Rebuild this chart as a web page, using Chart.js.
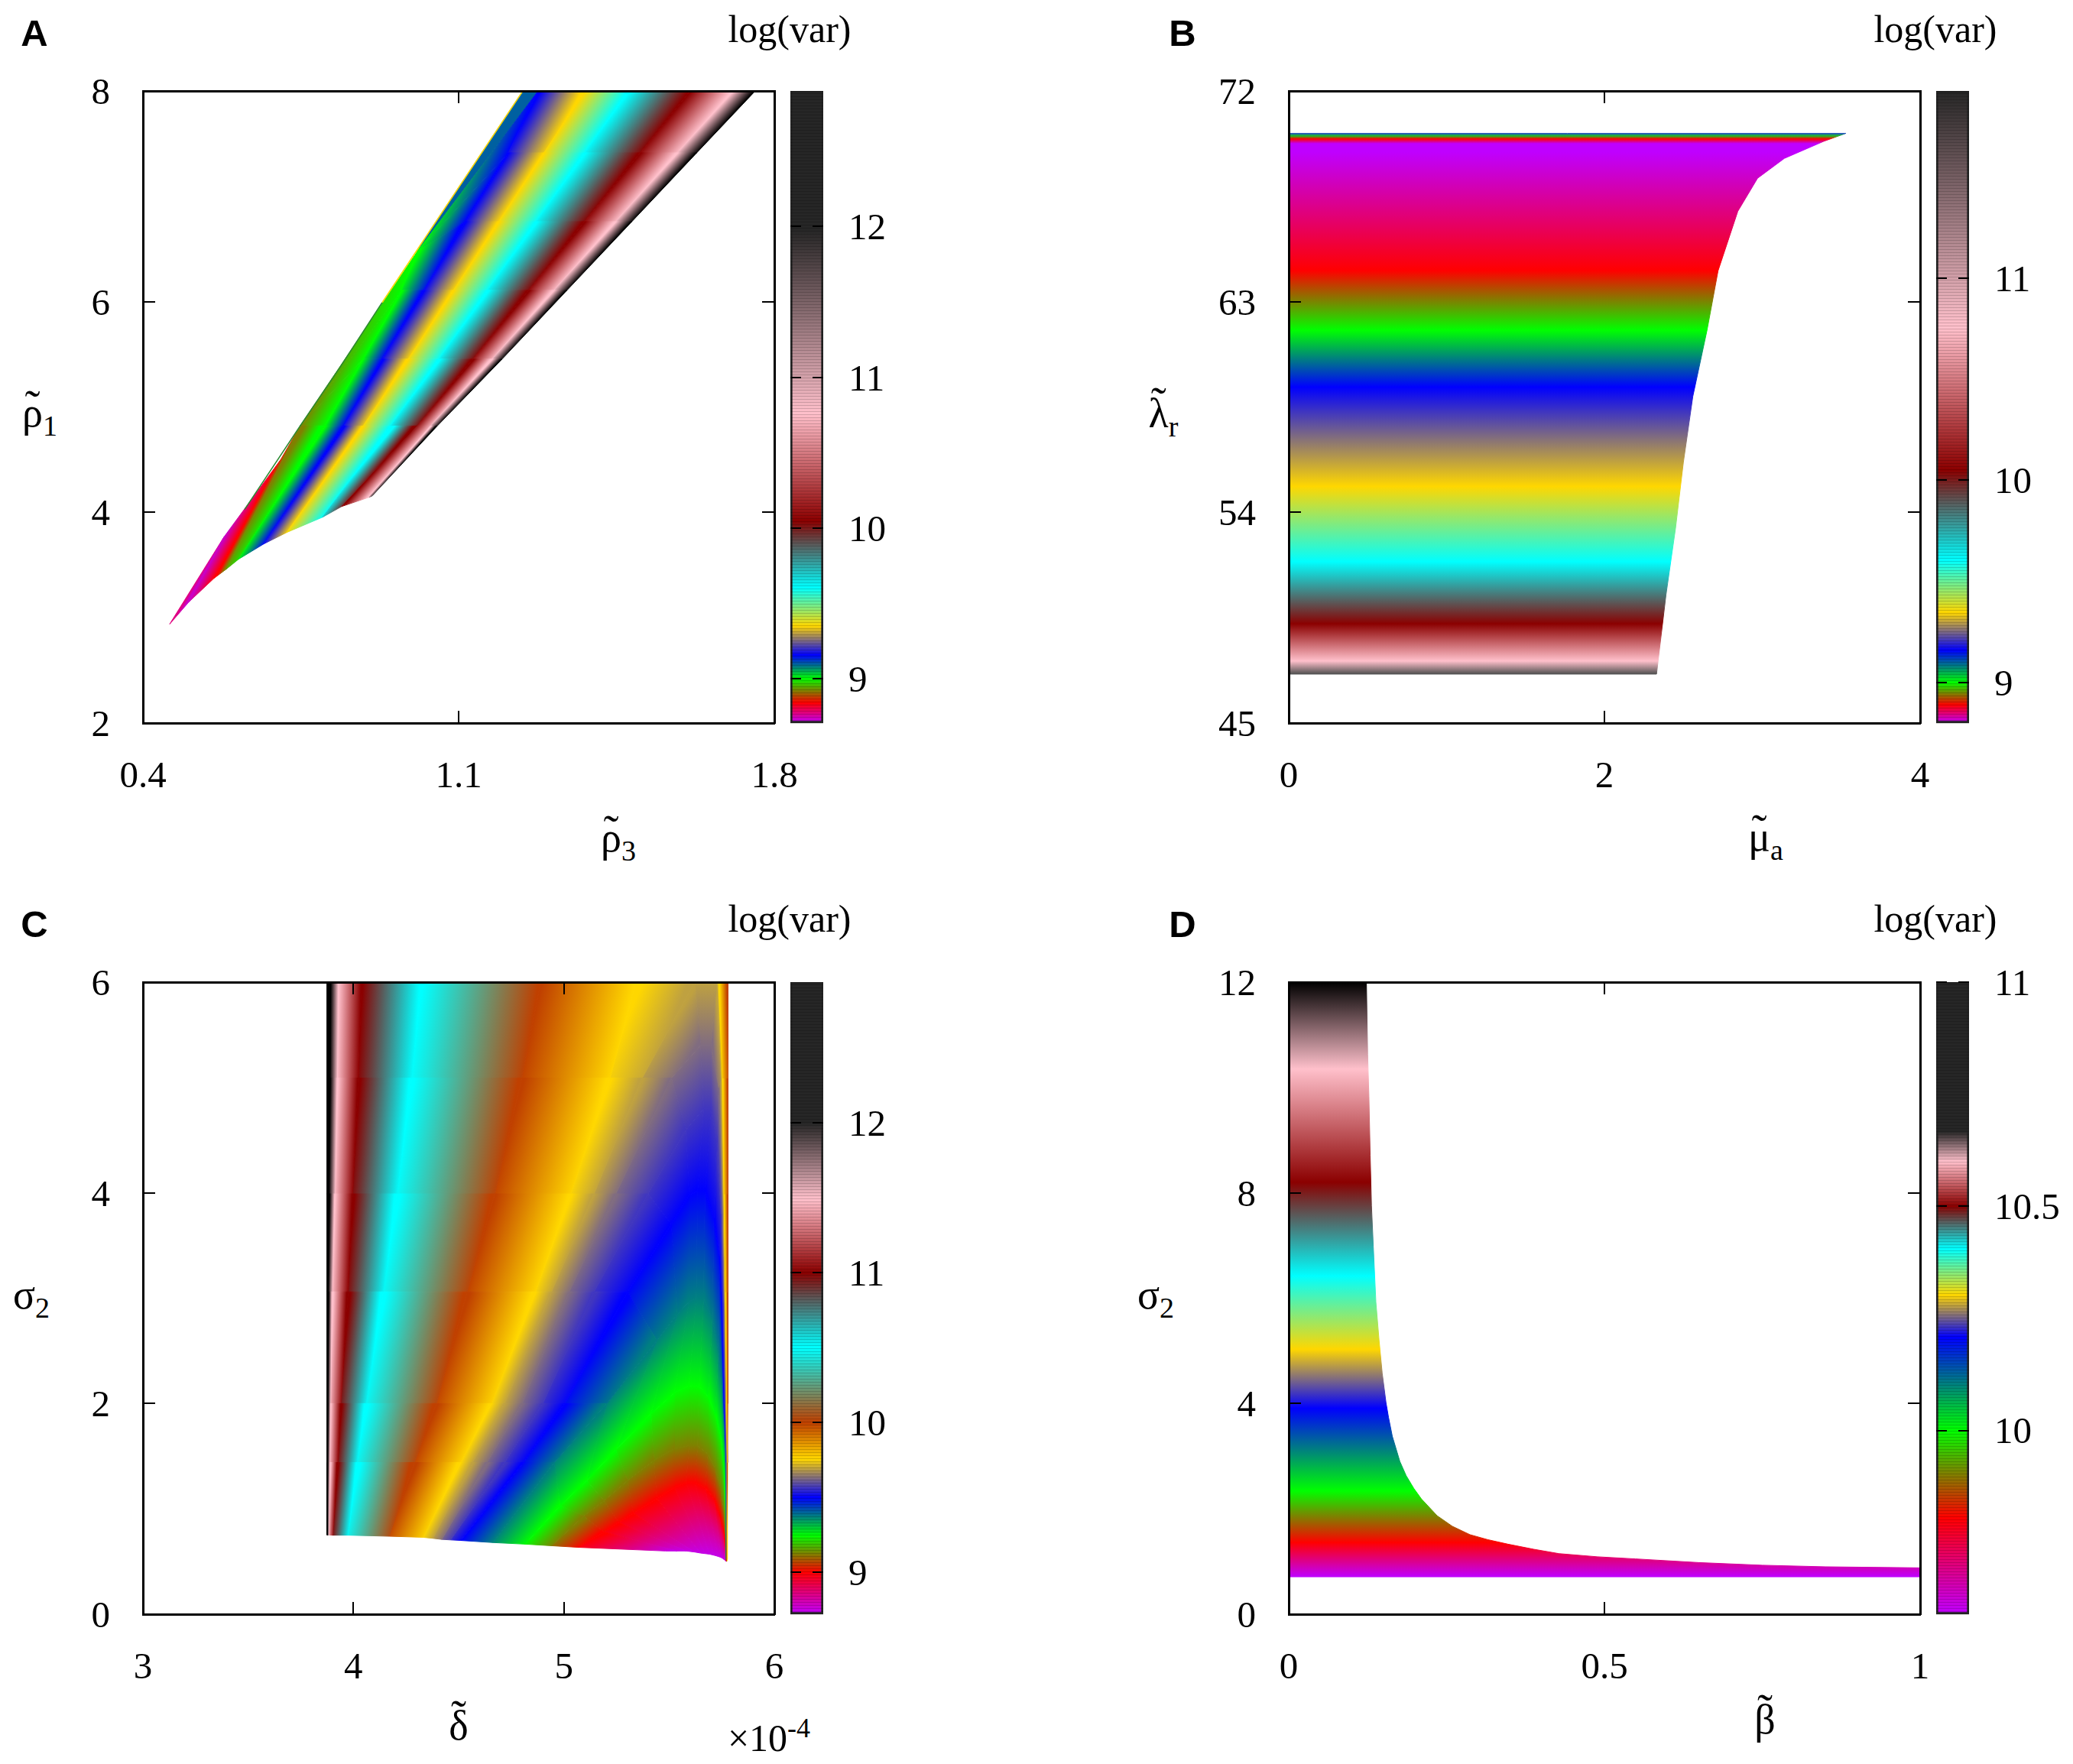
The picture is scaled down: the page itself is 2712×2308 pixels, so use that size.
<!DOCTYPE html>
<html>
<head>
<meta charset="utf-8">
<title>log(var) maps</title>
<script src="https://cdn.jsdelivr.net/npm/chart.js@4"></script>
<style>
  html, body { margin: 0; padding: 0; background: #fff; }
  #page { position: relative; width: 2712px; height: 2308px; overflow: hidden; }
  canvas { position: absolute; }
  .txt { position: absolute; transform: translate(-50%, -50%); font-family: 'Liberation Serif', serif; font-size: 50px; line-height: 1; color: #000; white-space: nowrap; }
  .sym { font-size: 54px; }
  .sym sub { font-size: 38px; vertical-align: -12px; line-height: 0; }
  .txt sup { font-size: 36px; vertical-align: 18px; line-height: 0; }
  .tl { position: relative; display: inline-block; }
  .tl i { position: absolute; left: 0; right: 0; text-align: center; font-style: normal; font-size: 60px; }
  .tag { font-family: 'Liberation Sans', sans-serif; font-weight: bold; font-size: 49px; }
</style>
</head>
<body>
<div id="page">
  <div class="txt tag" style="left:45px;top:43px">A</div>
  <div class="txt tag" style="left:1547px;top:43px">B</div>
  <div class="txt tag" style="left:45px;top:1209px">C</div>
  <div class="txt tag" style="left:1547px;top:1209px">D</div>
  <div class="txt" style="left:1033px;top:38px">log(var)</div>
  <div class="txt" style="left:2532px;top:38px">log(var)</div>
  <div class="txt" style="left:1033px;top:1202px">log(var)</div>
  <div class="txt" style="left:2532px;top:1202px">log(var)</div>
  <div class="txt sym" style="left:52px;top:540px"><span class="tl">ρ<i style="top:-12px">˜</i></span><sub>1</sub></div>
  <div class="txt sym" style="left:1522px;top:541px"><span class="tl">λ<i style="top:-17px">˜</i></span><sub>r</sub></div>
  <div class="txt sym" style="left:41px;top:1694px">σ<sub>2</sub></div>
  <div class="txt sym" style="left:1512px;top:1694px">σ<sub>2</sub></div>
  <div class="txt sym" style="left:809px;top:1096px"><span class="tl">ρ<i style="top:-12px">˜</i></span><sub>3</sub></div>
  <div class="txt sym" style="left:2310px;top:1095px"><span class="tl">μ<i style="top:-12px">˜</i></span><sub>a</sub></div>
  <div class="txt sym" style="left:600px;top:2258px"><span class="tl">δ<i style="top:-16px">˜</i></span></div>
  <div class="txt sym" style="left:2309px;top:2250px"><span class="tl">β<i style="top:-16px">˜</i></span></div>
  <div class="txt" style="left:1006px;top:2274px">×10<sup>-4</sup></div>
</div>
<script>
// colours of the log(var) palette
const PURPLE = '#bf00ff', RED = '#ff0000', GREEN = '#00ff00', BLUE = '#0000ff', GOLD = '#ffd700',
    ORANGE = '#c04000', CYAN = '#00ffff', DARKRED = '#8b0000', PINK = '#ffc0cb', BLACK = '#000000',
    BARBLACK = '#262626';

// tick labels
const ticksAx = [0.4, 1.1, 1.8], ticksAy = [2, 4, 6, 8];
const ticksBx = [0, 2, 4], ticksBy = [45, 54, 63, 72];
const ticksCx = [3, 4, 5, 6], ticksCy = [0, 2, 4, 6];
const ticksDx = [0, 0.5, 1], ticksDy = [0, 4, 8, 12];

// colour bars: value read at each palette colour
const barAvalues = [8.706, 8.84, 9.0, 9.157, 9.35, 9.604, 10.046, 10.76, 11.98, 12.9];
const barAcolors = [PURPLE, RED, GREEN, BLUE, GOLD, CYAN, DARKRED, PINK, BARBLACK, BARBLACK];
const barAticks = [9, 10, 11, 12];
const barBvalues = [8.8, 8.89, 9.0, 9.16, 9.347, 9.605, 10.05, 10.755, 11.925];
const barBcolors = [PURPLE, RED, GREEN, BLUE, GOLD, CYAN, DARKRED, PINK, BARBLACK];
const barBticks = [9, 10, 11];
const barCvalues = [8.72, 9.0, 9.245, 9.5, 9.755, 10.0, 10.5, 11.0, 11.49, 12.0, 12.94];
const barCcolors = [PURPLE, RED, GREEN, BLUE, GOLD, ORANGE, CYAN, DARKRED, PINK, BARBLACK, BARBLACK];
const barCticks = [9, 10, 11, 12];
const barDvalues = [9.59, 9.805, 10.0, 10.208, 10.302, 10.405, 10.5, 10.6, 10.667, 11.0];
const barDcolors = [PURPLE, RED, GREEN, BLUE, GOLD, CYAN, DARKRED, PINK, BARBLACK, BARBLACK];
const barDticks = [10, 10.5, 11];

// panel A: contours of equal colour, [rho3, rho1], from the lower edge upwards
const aBlack = [[0.9085, 4.157], [1.0526, 4.82], [1.1964, 5.455], [1.3403, 6.108], [1.4841, 6.76], [1.6280, 7.413], [1.7577, 8]];
const aPink = [[0.9017, 4.143], [1.0373, 4.82], [1.1742, 5.455], [1.3112, 6.108], [1.4481, 6.76], [1.5850, 7.413], [1.7085, 8]];
const aDarkred = [[0.8407, 4.056], [1.0085, 4.82], [1.1319, 5.455], [1.2554, 6.108], [1.3788, 6.76], [1.5023, 7.413], [1.6136, 8]];
const aCyan = [[0.7983, 3.954], [0.9492, 4.82], [1.0567, 5.455], [1.1643, 6.108], [1.2718, 6.76], [1.3793, 7.413], [1.4763, 8]];
const aGold = [[0.7187, 3.809], [0.8882, 4.82], [0.9885, 5.455], [1.0887, 6.108], [1.1890, 6.76], [1.2893, 7.413], [1.3797, 8]];
const aBlue = [[0.6678, 3.70], [0.8458, 4.82], [0.9305, 5.455], [1.0228, 6.108], [1.1150, 6.76], [1.2100, 7.413], [1.2763, 8]];
const aGreen = [[0.6119, 3.555], [0.8034, 4.82], [0.8889, 5.455], [0.9745, 6.108], [1.0085, 6.478]];
const aBrown = [[0.5848, 3.461], [0.7492, 4.824]];
const aRed = [[0.5576, 3.374], [0.7051, 4.498]];
const aMagenta = [[0.5017, 3.149], [0.5797, 3.766]];
const aTip = [[0.4593, 2.939], [0.5797, 3.766]];
const aTopWedge = [[1.0085, 6.478], [1.0339, 6.658], [1.2424, 8], [1.2763, 8], [1.0085, 6.478]];
const aEdgeUpper = [[0.9305, 5.992], [1.0339, 6.658], [1.2424, 8]];
const aEdgeLower = [[0.6254, 4.027], [0.7492, 4.824], [0.839, 5.39], [0.9305, 5.992]];

// panel B: outline [mu_a, lambda_r] and the colour at each lambda_r
const bOutline = [[0, 47.09], [2.33, 47.09], [2.39, 50.48], [2.45, 53.3], [2.50, 56.13], [2.56, 58.95], [2.65, 61.78], [2.72, 64.32], [2.845, 66.86], [2.97, 68.27], [3.14, 69.12], [3.39, 69.85], [3.53, 70.19], [0, 70.19]];
const bLevels = [47.09, 47.65, 49.24, 51.89, 55.11, 59.35, 61.78, 64.32, 69.4, 69.75, 69.95, 70.08, 70.19];
const bColors = ['#505050', PINK, DARKRED, CYAN, GOLD, BLUE, GREEN, RED, PURPLE, PURPLE, RED, '#20c020', '#2050c0'];

// panel C: contours [delta, sigma2], left group from the lower edge to the top
const cEdge = [[3.874, 0.752], [3.874, 1.44], [3.874, 2], [3.874, 3.06], [3.874, 3.99], [3.874, 5.09], [3.874, 6]];
const cBlack = [[3.876, 0.752], [3.878, 1.44], [3.879, 2], [3.882, 3.06], [3.885, 3.99], [3.889, 5.09], [3.892, 6]];
const cPink = [[3.885, 0.752], [3.888, 1.44], [3.892, 2], [3.899, 3.06], [3.913, 3.99], [3.924, 5.09], [3.929, 6]];
const cDarkred = [[3.901, 0.75], [3.927, 1.44], [3.940, 2], [3.975, 3.06], [3.996, 3.99], [4.024, 5.09], [4.038, 6]];
const cCyan = [[3.975, 0.75], [4.017, 1.44], [4.059, 2], [4.142, 3.06], [4.207, 3.99], [4.277, 5.09], [4.323, 6]];
const cOrange = [[4.170, 0.74], [4.290, 1.44], [4.395, 2], [4.540, 3.06], [4.672, 3.99], [4.800, 5.09], [4.890, 6]];
// the outer edge on the right, where the colours come back
const cRightEdge = [[5.779, 6], [5.779, 5.09], [5.779, 3.99], [5.779, 3.06], [5.779, 2], [5.778, 1.44], [5.774, 0.5]];
// arches: up the left flank, over the top, down the right side
const cGold = [[4.330, 0.73], [4.510, 1.44], [4.656, 2], [4.865, 3.06], [5.032, 3.99], [5.219, 5.09], [5.344, 6], [5.736, 6], [5.754, 5.09], [5.761, 3.99], [5.768, 3.06], [5.774, 2], [5.777, 1.44], [5.777, 0.52]];
const cTan = [[4.378, 0.72], [4.566, 1.44], [4.719, 2], [4.941, 3.06], [5.143, 3.99], [5.372, 5.09], [5.622, 6], [5.727, 6], [5.747, 5.09], [5.757, 3.99], [5.764, 3.06], [5.771, 2], [5.775, 1.44], [5.775, 0.52]];
const cGray = [[4.420, 0.71], [4.635, 1.44], [4.802, 2], [5.025, 3.06], [5.247, 3.99], [5.511, 5.09], [5.650, 5.4], [5.699, 5.4], [5.736, 5.0], [5.753, 3.99], [5.761, 3.06], [5.768, 2], [5.774, 1.44], [5.774, 0.52]];
const cViolet = [[4.462, 0.705], [4.719, 1.44], [4.900, 2], [5.143, 3.06], [5.400, 3.99], [5.581, 4.6], [5.664, 4.8], [5.699, 4.8], [5.727, 4.5], [5.747, 3.8], [5.757, 3.06], [5.766, 2], [5.771, 1.44], [5.772, 0.52]];
const cBlue = [[4.510, 0.70], [4.809, 1.44], [5.004, 2], [5.303, 3.06], [5.511, 3.7], [5.595, 3.98], [5.636, 4.02], [5.671, 4.02], [5.713, 3.75], [5.740, 3.4], [5.747, 3.06], [5.761, 2], [5.771, 1.44], [5.772, 0.52]];
const cTeal = [[4.663, 0.68], [4.955, 1.44], [5.205, 2], [5.442, 2.6], [5.539, 2.85], [5.595, 2.97], [5.629, 3.0], [5.664, 3.0], [5.706, 2.8], [5.734, 2.5], [5.747, 2.25], [5.759, 1.9], [5.770, 1.44], [5.772, 0.52]];
const cGreen = [[4.816, 0.665], [4.983, 1.03], [5.108, 1.27], [5.247, 1.56], [5.414, 1.9], [5.525, 2.1], [5.595, 2.17], [5.643, 2.16], [5.685, 2.07], [5.720, 1.9], [5.747, 1.68], [5.759, 1.44], [5.768, 1.08], [5.772, 0.6]];
const cBrown = [[4.941, 0.65], [5.094, 0.93], [5.191, 1.08], [5.303, 1.27], [5.428, 1.46], [5.525, 1.57], [5.595, 1.6], [5.636, 1.6], [5.685, 1.52], [5.720, 1.38], [5.745, 1.2], [5.759, 1.0], [5.768, 0.8], [5.772, 0.55]];
const cRed = [[5.066, 0.635], [5.191, 0.78], [5.261, 0.87], [5.330, 0.96], [5.442, 1.1], [5.525, 1.2], [5.581, 1.25], [5.622, 1.25], [5.671, 1.2], [5.713, 1.1], [5.740, 0.95], [5.759, 0.8], [5.767, 0.68], [5.772, 0.51]];
const cMagenta = [[5.483, 0.6], [5.539, 0.6], [5.581, 0.6], [5.622, 0.59], [5.650, 0.58], [5.671, 0.575], [5.692, 0.57], [5.713, 0.56], [5.731, 0.55], [5.745, 0.54], [5.754, 0.53], [5.761, 0.52], [5.767, 0.51], [5.771, 0.5]];

// panel D: outline [beta, sigma2] and the colour at each sigma2
const dOutline = [[0, 0.71], [1, 0.71], [1, 0.88], [0.85, 0.90], [0.75, 0.93], [0.65, 0.98], [0.549, 1.05], [0.489, 1.09], [0.428, 1.15], [0.388, 1.233], [0.347, 1.33], [0.315, 1.416], [0.287, 1.51], [0.259, 1.67], [0.235, 1.87], [0.21, 2.19], [0.198, 2.39], [0.186, 2.63], [0.176, 2.90], [0.164, 3.38], [0.158, 3.74], [0.154, 4.02], [0.148, 4.58], [0.143, 5.21], [0.138, 5.93], [0.134, 6.97], [0.131, 7.76], [0.129, 8.71], [0.127, 9.83], [0.125, 10.63], [0.123, 12], [0, 12]];
const dLevels = [0.71, 1.36, 2.34, 3.91, 5.03, 6.42, 8.2, 10.35, 12];
const dColors = [PURPLE, RED, GREEN, BLUE, GOLD, CYAN, DARKRED, PINK, BLACK];

Chart.defaults.animation = false;
Chart.defaults.font.family = "'Liberation Serif', serif";
Chart.defaults.font.size = 49;
Chart.defaults.color = '#000';

const page = document.getElementById('page');

function addCanvas(left, top, width, height) {
    const c = document.createElement('canvas');
    c.width = width;
    c.height = height;
    c.style.left = left + 'px';
    c.style.top = top + 'px';
    c.style.width = width + 'px';
    c.style.height = height + 'px';
    page.appendChild(c);
    return c;
}

const toPoints = pairs => pairs.map(p => ({ x: p[0], y: p[1] }));

// a vertical gradient placed through the y scale
function levelGradient(chart, scale, values, colors) {
    const first = values[0], last = values[values.length - 1];
    const g = chart.ctx.createLinearGradient(0, scale.getPixelForValue(first), 0, scale.getPixelForValue(last));
    values.forEach((v, i) => g.addColorStop((v - first) / (last - first), colors[i]));
    return g;
}

function levelFill(values, colors, scaleId) {
    let g = null;
    return ctx => {
        const chart = ctx.chart;
        if (!chart.chartArea) return colors[0];
        if (!g) g = levelGradient(chart, chart.scales[scaleId], values, colors);
        return g;
    };
}

// gradient across one cell between two contours, iso lines follow the contours
function cellGradient(chart, a0, a1, b0, b1, colorA, colorB) {
    const sx = chart.scales.x, sy = chart.scales.y;
    const px = p => [sx.getPixelForValue(p[0]), sy.getPixelForValue(p[1])];
    const [A0, A1, B0, B1] = [a0, a1, b0, b1].map(px);
    let dx = (A1[0] - A0[0]) + (B1[0] - B0[0]), dy = (A1[1] - A0[1]) + (B1[1] - B0[1]);
    const len = Math.hypot(dx, dy) || 1;
    const nx = -dy / len, ny = dx / len;
    const Px = (A0[0] + A1[0]) / 2, Py = (A0[1] + A1[1]) / 2;
    const Qx = (B0[0] + B1[0]) / 2, Qy = (B0[1] + B1[1]) / 2;
    const d = (Qx - Px) * nx + (Qy - Py) * ny;
    const g = chart.ctx.createLinearGradient(Px, Py, Px + nx * d, Py + ny * d);
    g.addColorStop(0, colorA);
    g.addColorStop(1, colorB);
    return g;
}

function cellFill(a0, a1, b0, b1, colorA, colorB) {
    let g = null;
    return ctx => {
        const chart = ctx.chart;
        if (!chart.chartArea) return colorA;
        if (!g) g = cellGradient(chart, a0, a1, b0, b1, colorA, colorB);
        return g;
    };
}

// one filled polygon per cell between neighbouring contours
function contourCells(contours, colors) {
    const sets = [];
    for (let i = 0; i < contours.length - 1; i++) {
        const A = contours[i], B = contours[i + 1];
        const n = Math.max(A.length, B.length) - 1;
        for (let j = 0; j < n; j++) {
            const a0 = A[Math.min(j, A.length - 1)], a1 = A[Math.min(j + 1, A.length - 1)];
            const b0 = B[Math.min(j, B.length - 1)], b1 = B[Math.min(j + 1, B.length - 1)];
            const fill = cellFill(a0, a1, b0, b1, colors[i], colors[i + 1]);
            sets.push({
                data: toPoints([a0, a1, b1, b0, a0]),
                showLine: true, fill: 'shape', pointRadius: 0, borderWidth: 1,
                backgroundColor: fill, borderColor: fill
            });
        }
    }
    return sets;
}

function shapeSet(outline, fill) {
    return {
        data: toPoints(outline.concat([outline[0]])),
        showLine: true, fill: 'shape', pointRadius: 0, borderWidth: 1,
        backgroundColor: fill, borderColor: fill
    };
}

function lineSet(points, color, width) {
    return { data: toPoints(points), showLine: true, fill: false, pointRadius: 0, borderWidth: width, borderColor: color };
}

function fixedTicks(values) {
    return scale => { scale.ticks = values.map(v => ({ value: v })); };
}

// axis size is fixed by hand, label overhang must not push the plot area in
function fixSize(scale, size) {
    if (scale.isHorizontal()) scale.height = size; else scale.width = size;
    scale.paddingLeft = scale.paddingRight = scale.paddingTop = scale.paddingBottom = 0;
}

function frameAxis(position, values, withLabels, size) {
    const horizontal = position === 'top' || position === 'bottom';
    return {
        type: 'linear', position: position,
        min: values[0], max: values[values.length - 1],
        afterBuildTicks: fixedTicks(values),
        afterFit: scale => fixSize(scale, size),
        grid: { drawOnChartArea: false, drawTicks: true, tickLength: -16, color: '#000', lineWidth: 2, z: 1 },
        border: { display: true, color: '#000', width: 3, z: 1 },
        ticks: {
            display: withLabels, autoSkip: false, maxRotation: 0, minRotation: 0,
            padding: horizontal ? 58 : 59,
            labelOffset: horizontal ? 0 : 4,
            callback: v => String(v)
        }
    };
}

function panel(left, top, xTicks, yTicks, datasets) {
    const mL = 130, mT = 40, mR = 60, mB = 110, w = 826, h = 827;
    const canvas = addCanvas(left - mL, top - mT, w + mL + mR, h + mT + mB);
    return new Chart(canvas, {
        type: 'scatter',
        data: { datasets: datasets },
        options: {
            responsive: false,
            events: [],
            plugins: { legend: { display: false }, tooltip: { enabled: false } },
            scales: {
                x: frameAxis('bottom', xTicks, true, mB),
                y: frameAxis('left', yTicks, true, mL),
                x2: frameAxis('top', xTicks, false, mT),
                y2: frameAxis('right', yTicks, false, mR)
            }
        }
    });
}

// an empty axis that only holds the margin above or below the colour box
function spacerAxis(position, size) {
    return {
        type: 'linear', position: position,
        afterFit: scale => fixSize(scale, size),
        grid: { display: false }, border: { display: false }, ticks: { display: false }
    };
}

function colorBar(left, top, values, colors, ticks) {
    const mL = 10, mT = 40, mR = 140, mB = 30, w = 43, h = 827;
    const canvas = addCanvas(left - mL, top - mT, w + mL + mR, h + mT + mB);
    const lo = values[0], hi = values[values.length - 1];
    return new Chart(canvas, {
        type: 'bar',
        data: {
            labels: ['log(var)'],
            datasets: [{
                data: [[lo, hi]],
                barPercentage: 1, categoryPercentage: 1,
                backgroundColor: levelFill(values, colors, 'y'),
                borderColor: '#222', borderWidth: 3, borderSkipped: false
            }]
        },
        options: {
            responsive: false,
            events: [],
            plugins: { legend: { display: false }, tooltip: { enabled: false } },
            scales: {
                x: { display: false },
                xTop: spacerAxis('top', mT),
                xBottom: spacerAxis('bottom', mB),
                y: {
                    type: 'linear', position: 'right', min: lo, max: hi,
                    afterBuildTicks: fixedTicks(ticks),
                    afterFit: scale => fixSize(scale, mR),
                    grid: { drawTicks: false, color: '#000', lineWidth: 2, z: 2 },
                    border: { display: false, dash: [14, 15] },
                    ticks: { autoSkip: false, maxRotation: 0, padding: 33, labelOffset: 4, callback: v => String(v) }
                },
                // the fine banding of the colour box
                bands: {
                    type: 'linear', position: 'left', min: 0, max: 1,
                    afterFit: scale => fixSize(scale, mL),
                    grid: { drawTicks: false, color: 'rgba(0,0,0,0.16)', lineWidth: 1, z: 1 },
                    border: { display: false },
                    ticks: { display: false, count: 208, autoSkip: false }
                }
            }
        }
    });
}

// panel A
const aContours = [aBlack, aPink, aDarkred, aCyan, aGold, aBlue, aGreen, aBrown, aRed, aMagenta, aTip];
const aColors = [BLACK, PINK, DARKRED, CYAN, GOLD, BLUE, GREEN, '#808000', RED, '#c800c8', '#e00080'];
const aSets = contourCells(aContours, aColors);
aSets.unshift(lineSet(aEdgeUpper, GOLD, 1.5), lineSet(aEdgeLower, '#2a8a30', 1.5));
aSets.push(shapeSet(aTopWedge, '#0060a0'));
panel(187, 119, ticksAx, ticksAy, aSets);
colorBar(1034, 119, barAvalues, barAcolors, barAticks);

// panel B
panel(1686, 119, ticksBx, ticksBy, [shapeSet(bOutline, levelFill(bLevels, bColors, 'y'))]);
colorBar(2533, 119, barBvalues, barBcolors, barBticks);

// panel C
const cLeft = contourCells([cEdge, cBlack, cPink, cDarkred, cCyan, cOrange], [BLACK, BLACK, PINK, DARKRED, CYAN, ORANGE]);
const cMiddle = contourCells([cOrange.concat(cRightEdge), cGold, cTan, cGray, cViolet, cBlue, cTeal, cGreen, cBrown, cRed, cMagenta],
    [ORANGE, GOLD, '#bfa140', '#806c80', '#4036bf', BLUE, '#008080', GREEN, '#808000', RED, '#c400e6']);
panel(187, 1285, ticksCx, ticksCy, cLeft.concat(cMiddle));
colorBar(1034, 1285, barCvalues, barCcolors, barCticks);

// panel D
panel(1686, 1285, ticksDx, ticksDy, [shapeSet(dOutline, levelFill(dLevels, dColors, 'y'))]);
colorBar(2533, 1285, barDvalues, barDcolors, barDticks);
</script>
</body>
</html>
